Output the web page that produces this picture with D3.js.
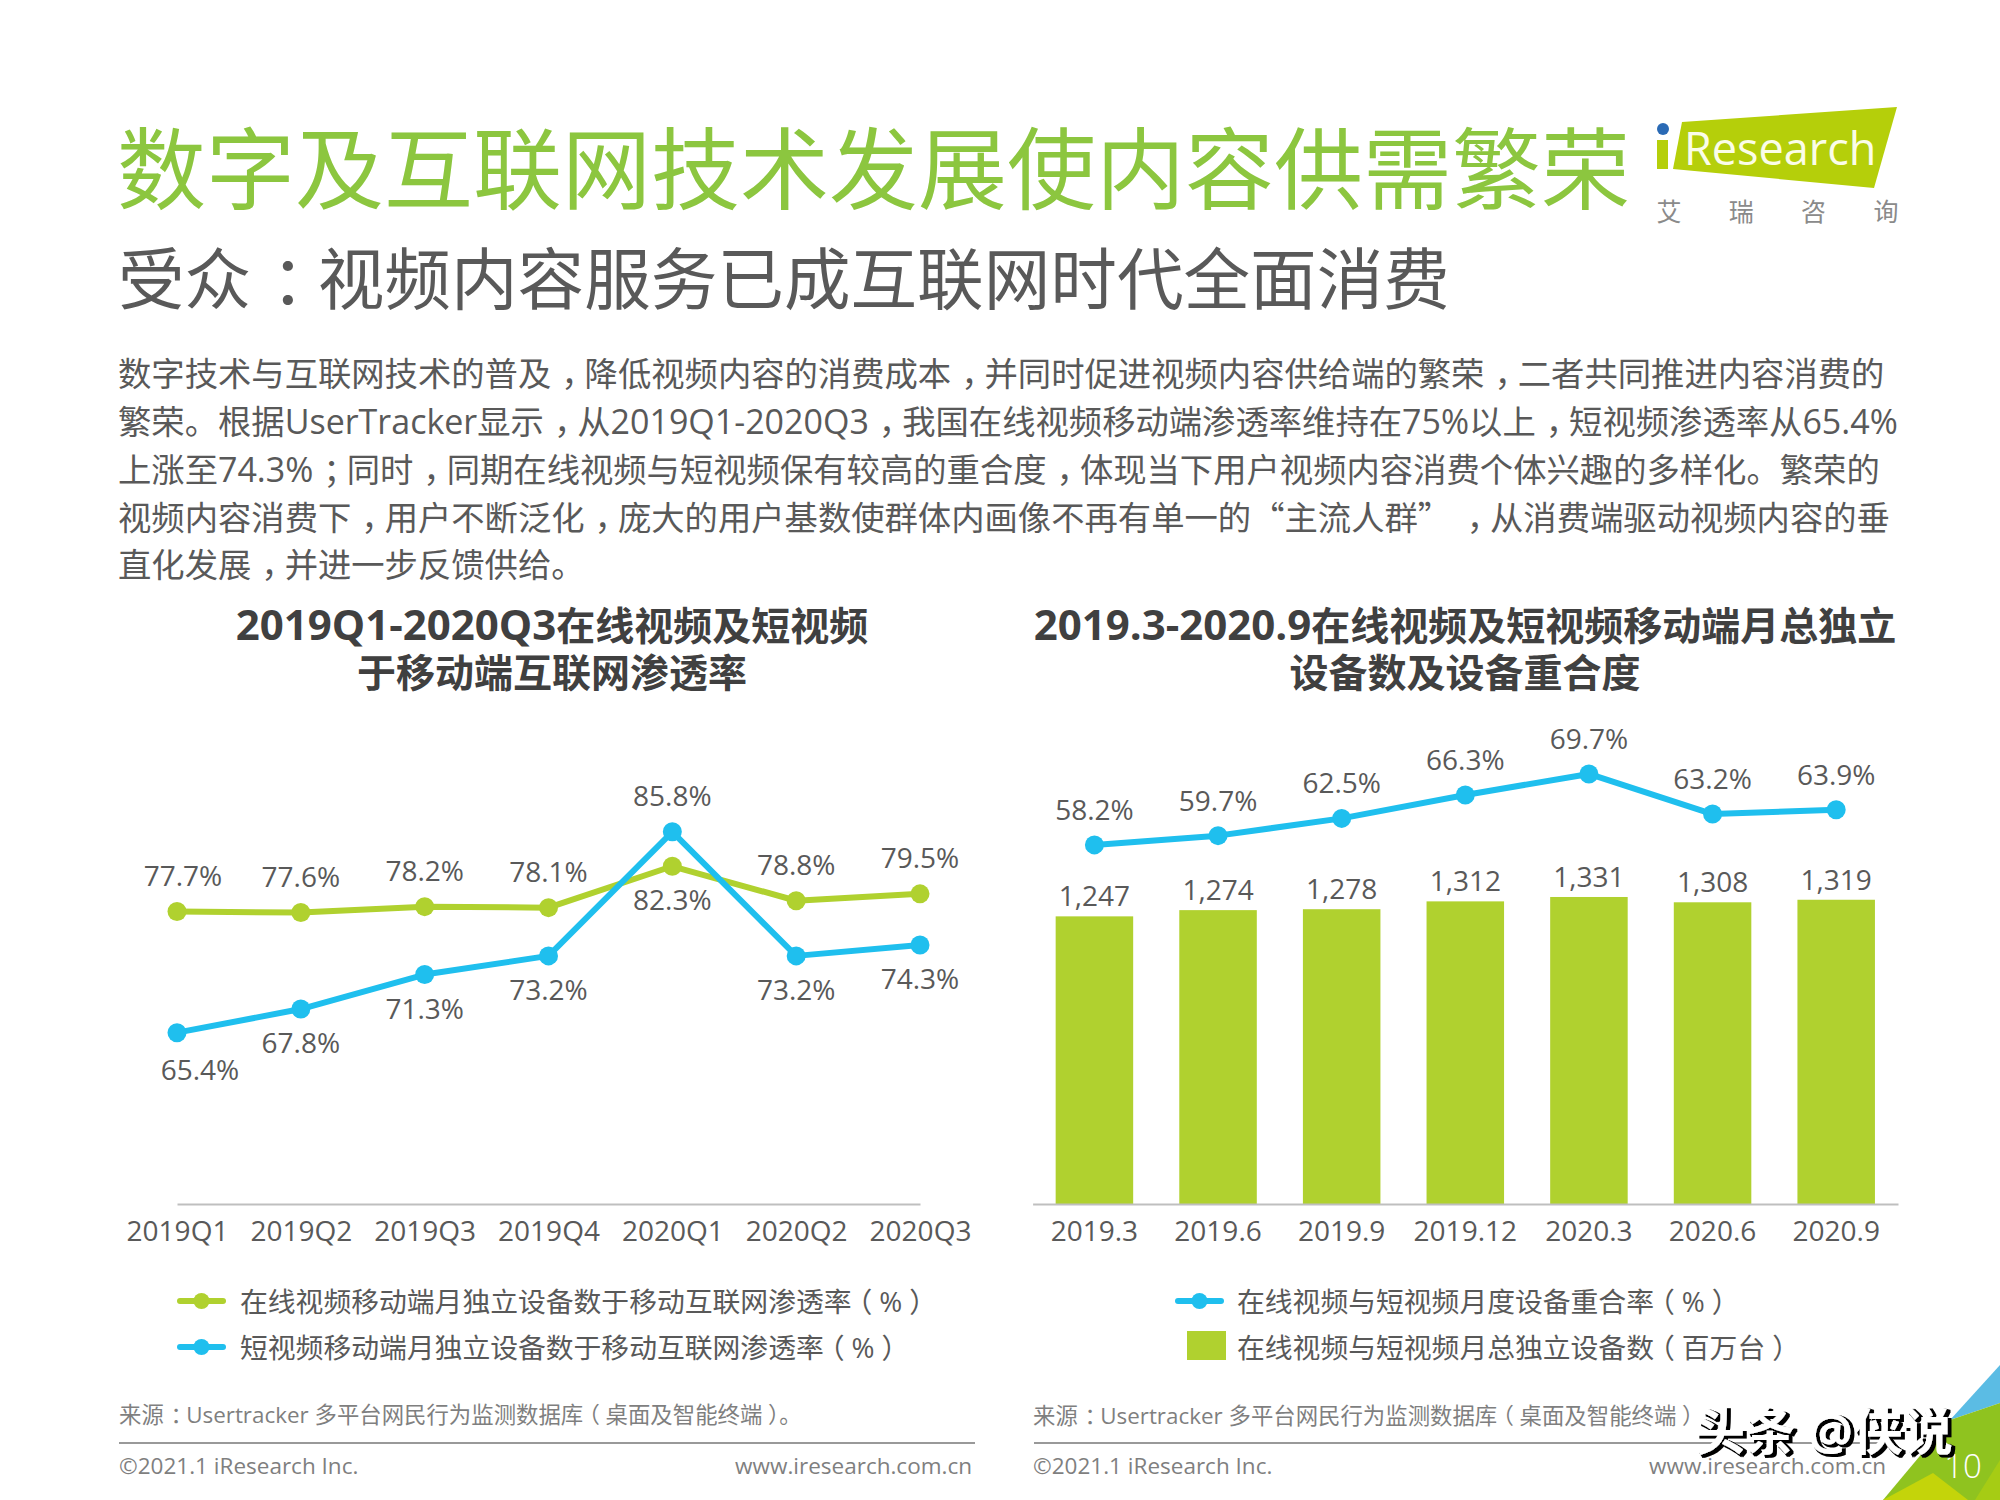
<!DOCTYPE html>
<html>
<head>
<meta charset="utf-8">
<script src="https://cdnjs.cloudflare.com/ajax/libs/d3/7.8.5/d3.min.js"></script>
<style>
  body { margin: 0; background: #fff; }
  text { font-family: "Open Sans", "Noto Sans CJK SC", sans-serif; fill: #595959; }
  .tick line { display: none; }
</style>
</head>
<body>
<svg id="page" width="2000" height="1500">
  <defs>
    <filter id="shadow" x="-5%" y="-20%" width="110%" height="140%">
      <feMorphology in="SourceAlpha" operator="dilate" radius="0.7" result="fat"/>
      <feOffset in="fat" dx="2.5" dy="2" result="off"/>
      <feMerge>
        <feMergeNode in="off"/>
        <feMergeNode in="SourceGraphic"/>
      </feMerge>
    </filter>
  </defs>
</svg>
<script>
// ascii punctuation in the copy below is turned into full width by wide()
const title = '数字及互联网技术发展使内容供需繁荣';
const subtitle = '受众:视频内容服务已成互联网时代全面消费';
const bodyLines = [
  '数字技术与互联网技术的普及,降低视频内容的消费成本,并同时促进视频内容供给端的繁荣,二者共同推进内容消费的',
  '繁荣。根据UserTracker显示,从2019Q1-2020Q3,我国在线视频移动端渗透率维持在75%以上,短视频渗透率从65.4%',
  '上涨至74.3%;同时,同期在线视频与短视频保有较高的重合度,体现当下用户视频内容消费个体兴趣的多样化。繁荣的',
  '视频内容消费下,用户不断泛化,庞大的用户基数使群体内画像不再有单一的“主流人群”\u2009,从消费端驱动视频内容的垂',
  '直化发展,并进一步反馈供给。'
];

const quarters = ['2019Q1', '2019Q2', '2019Q3', '2019Q4', '2020Q1', '2020Q2', '2020Q3'];
const onlineRate = [77.7, 77.6, 78.2, 78.1, 82.3, 78.8, 79.5];
const shortRate = [65.4, 67.8, 71.3, 73.2, 85.8, 73.2, 74.3];
const leftTitle = ['2019Q1-2020Q3在线视频及短视频', '于移动端互联网渗透率'];
const leftLegend = ['在线视频移动端月独立设备数于移动互联网渗透率(%)', '短视频移动端月独立设备数于移动互联网渗透率(%)'];

const months = ['2019.3', '2019.6', '2019.9', '2019.12', '2020.3', '2020.6', '2020.9'];
const overlapRate = [58.2, 59.7, 62.5, 66.3, 69.7, 63.2, 63.9];
const devices = [1247, 1274, 1278, 1312, 1331, 1308, 1319];
const rightTitle = ['2019.3-2020.9在线视频及短视频移动端月总独立', '设备数及设备重合度'];
const rightLegend = ['在线视频与短视频月度设备重合率(%)', '在线视频与短视频月总独立设备数(百万台)'];

const source = '来源:Usertracker 多平台网民行为监测数据库(桌面及智能终端)。';
const green = '#b0d12f';
const blue = '#1fbfee';

const svg = d3.select('#page');

// corner decoration goes under everything else
const corner = [
  ['#5bbce4', [[2000, 1365], [1950, 1420], [2000, 1403]]],
  ['#8fc31f', [[2000, 1403], [1950, 1420], [1883, 1500], [2000, 1500]]],
  ['#c4d40a', [[1883, 1500], [1933, 1473], [1968, 1500]]],
  ['#a6cc14', [[2000, 1460], [1975, 1500], [2000, 1500]]]
];
svg.selectAll('polygon.corner').data(corner).join('polygon')
  .attr('class', 'corner')
  .attr('fill', d => d[0])
  .attr('points', d => d[1].join(' '));

const wideMap = { ',': '\uFF0C', ':': '\uFF1A', ';': '\uFF1B', '(': '\uFF08', ')': '\uFF09' };
const wide = s => s.replace(/[,:;()]/g, c => wideMap[c]);

// the CJK font sets these to one side of their cell, the reference centres them
const punctShift = { '\uFF0C': 0.3, '\uFF1A': 0.3, '\uFF1B': 0.3, '\uFF08': -0.25, '\uFF09': 0.25 };

const addText = (str, x, y, size, opts = {}) => {
  const t = svg.append('text')
    .attr('x', x).attr('y', y)
    .attr('text-anchor', opts.anchor || 'start')
    .style('font-size', size + 'px')
    .style('font-weight', opts.weight || 400)
    .style('fill', opts.fill || '#595959');
  let pending = 0;
  str.split(/([\uFF0C\uFF1A\uFF1B\uFF08\uFF09“”]|[0-9A-Za-z.\-%]+)/).filter(s => s).forEach(part => {
    const span = t.append('tspan').text(part);
    const shift = punctShift[part] || 0;
    if (part[0] === '。') pending = 0; // keep the gap after a closing bracket
    if (pending || shift) span.attr('dx', (pending + shift) + 'em');
    pending = -shift;
    if (part === '“' || part === '”') span.style('font-family', '"Noto Sans CJK SC"');
    if (opts.latinSize && /^[0-9A-Za-z.\-%]+$/.test(part)) span.style('font-size', opts.latinSize + 'px');
  });
  return t;
};

addText(title, 117, 202, 89, { fill: '#8cc63f' });
addText(wide(subtitle), 118, 304, 66.6);

const bodyY = [386, 434, 482, 530, 577];
bodyLines.forEach((line, i) => addText(wide(line), 118, bodyY[i], 33.35, { latinSize: 34 }));

leftTitle.forEach((line, i) => addText(line, 552, 640 + i * 47, 39, { anchor: 'middle', weight: 700, fill: '#404040', latinSize: 42 }));
rightTitle.forEach((line, i) => addText(line, 1465, 640 + i * 47, 39, { anchor: 'middle', weight: 700, fill: '#404040', latinSize: 42 }));

// logo
svg.append('polygon').attr('fill', '#b5cf0a').attr('points', '1682,122 1897,107 1874,188 1673,169');
svg.append('rect').attr('fill', '#b5cf0a').attr('x', 1657).attr('y', 140).attr('width', 11).attr('height', 29);
svg.append('circle').attr('fill', '#2a6ab5').attr('cx', 1663).attr('cy', 129).attr('r', 6);
addText('Research', 1684, 165, 45, { fill: '#fbfde8' });
['艾', '瑞', '咨', '询'].forEach((c, i) => addText(c, 1669 + i * 72.3, 221, 25, { anchor: 'middle', fill: '#8a8a8a' }));

const axisY = 1204;
const drawAxis = (scale) => {
  const g = svg.append('g')
    .attr('transform', `translate(0,${axisY})`)
    .call(d3.axisBottom(scale).tickSize(0).tickPadding(17));
  g.select('.domain').attr('stroke', '#bfbfbf').attr('stroke-width', 2);
  g.selectAll('text').style('font-size', '28px').style('font-family', '"Open Sans"').style('fill', '#595959');
};

const drawLine = (xPos, y, values, color) => {
  const line = d3.line().x((d, i) => xPos(i)).y(d => y(d));
  svg.append('path').datum(values)
    .attr('d', line)
    .attr('fill', 'none')
    .attr('stroke', color)
    .attr('stroke-width', 6)
    .attr('stroke-linejoin', 'round');
  svg.append('g').selectAll('circle').data(values).join('circle')
    .attr('cx', (d, i) => xPos(i))
    .attr('cy', d => y(d))
    .attr('r', 9.5)
    .attr('fill', color);
};

const drawLegendLine = (x, y, color) => {
  svg.append('line').attr('x1', x + 3).attr('x2', x + 46).attr('y1', y).attr('y2', y)
    .attr('stroke', color).attr('stroke-width', 6).attr('stroke-linecap', 'round');
  svg.append('circle').attr('cx', x + 24.5).attr('cy', y).attr('r', 8).attr('fill', color);
};

// left chart
const xLeft = d3.scalePoint().domain(quarters).range([177, 920]);
const yLeft = d3.scaleLinear().domain([48, 100]).range([axisY, 692]);
const xl = i => xLeft(quarters[i]);

drawAxis(xLeft);
drawLine(xl, yLeft, onlineRate, green);
drawLine(xl, yLeft, shortRate, blue);

// first labels sit a bit to the right of their points
onlineRate.forEach((d, i) => {
  const below = quarters[i] === '2020Q1';
  addText(d.toFixed(1) + '%', xl(i) + (i === 0 ? 6 : 0), yLeft(d) + (below ? 44 : -26), 28, { anchor: 'middle' });
});
shortRate.forEach((d, i) => {
  const above = quarters[i] === '2020Q1';
  addText(d.toFixed(1) + '%', xl(i) + (i === 0 ? 23 : 0), yLeft(d) + (above ? -26 : i === 0 ? 47 : 44), 28, { anchor: 'middle' });
});

drawLegendLine(177, 1301, green);
drawLegendLine(177, 1347, blue);
leftLegend.forEach((t, i) => addText(wide(t), 240, 1312 + i * 46, 27.8));

// right chart
const xRight = d3.scaleBand().domain(months).range([1032.6, 1898]).paddingInner(0.373).paddingOuter(0.1865);
const yBars = d3.scaleLinear().domain([0, 1500]).range([axisY, 858]);
const yOverlap = d3.scaleLinear().domain([0, 100]).range([axisY, 587]);
const xr = i => xRight(months[i]) + xRight.bandwidth() / 2;

svg.append('g').selectAll('rect').data(devices).join('rect')
  .attr('x', (d, i) => xRight(months[i]))
  .attr('y', d => yBars(d))
  .attr('width', xRight.bandwidth())
  .attr('height', d => axisY - yBars(d))
  .attr('fill', green);

drawAxis(xRight);
drawLine(xr, yOverlap, overlapRate, blue);

const fmt = d3.format(',');
devices.forEach((d, i) => addText(fmt(d), xr(i), yBars(d) - 10, 28, { anchor: 'middle' }));
overlapRate.forEach((d, i) => addText(d.toFixed(1) + '%', xr(i), yOverlap(d) - 25, 28, { anchor: 'middle' }));

drawLegendLine(1175, 1301, blue);
svg.append('rect').attr('x', 1187).attr('y', 1331).attr('width', 39).attr('height', 29).attr('fill', green);
rightLegend.forEach((t, i) => addText(wide(t), 1237, 1312 + i * 46, 27.8));

// footer
[[119, 975], [1034, 1888]].forEach(([x1, x2]) => {
  svg.append('line').attr('x1', x1).attr('x2', x2).attr('y1', 1443).attr('y2', 1443)
    .attr('stroke', '#999').attr('stroke-width', 2);
});
addText(wide(source), 119, 1423, 22.4, { fill: '#7f7f7f' });
addText(wide(source.replace('。', '')), 1033, 1424, 22.4, { fill: '#7f7f7f' });
addText('©2021.1 iResearch Inc.', 119, 1474, 22.5, { fill: '#7f7f7f' });
addText('©2021.1 iResearch Inc.', 1033, 1474, 22.5, { fill: '#7f7f7f' });
addText('www.iresearch.com.cn', 972, 1474, 22.5, { anchor: 'end', fill: '#7f7f7f' });
addText('www.iresearch.com.cn', 1886, 1474, 22.5, { anchor: 'end', fill: '#7f7f7f' });
addText('10', 1963, 1478, 33, { anchor: 'middle', fill: '#fff', weight: 300 });

// watermark: white glyphs with a black drop shadow
addText('头条 @侠说', 1695, 1450, 50, { fill: '#fff', weight: 700 }).attr('filter', 'url(#shadow)');
</script>
</body>
</html>
